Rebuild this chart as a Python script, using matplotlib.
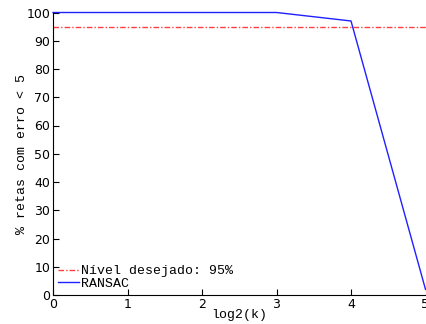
import numpy as np
import matplotlib
matplotlib.use("Agg")
import matplotlib.pyplot as plt

log2k = [0, 1, 2, 3, 4, 5]
ransac = [100, 100, 100, 100, 97, 2]
nivel = 95

fig = plt.figure(figsize=(4.26, 3.24), dpi=100)
ax = fig.add_axes([53/426, 1-295/324, (425.5-53)/426, (295-12.5)/324])

ax.plot([0, 5], [nivel, nivel], color='#ff4040', linestyle=(0, (4, 1.5, 1, 1.5)), linewidth=1,
        label='Nível desejado: 95%')
ax.plot(log2k, ransac, color='#2020ff', linewidth=1, label='RANSAC', clip_on=False)

ax.set_xlim(0, 5)
ax.set_ylim(0, 100)
ax.set_xticks(range(6))
ax.set_yticks(range(0, 101, 10))
ax.spines['top'].set_visible(False)
ax.spines['right'].set_visible(False)
ax.tick_params(direction='in', length=4, labelsize=9, pad=2)
ax.set_xlabel('log2(k)', family='Liberation Mono', fontsize=9.5, labelpad=-1)
ax.set_ylabel('% retas com erro < 5', family='Liberation Mono', fontsize=9.5, labelpad=-1)

leg = ax.legend(loc='lower left', frameon=False, prop={'family': 'Liberation Mono', 'size': 9.5},
                handlelength=1.6, handletextpad=0.1, borderaxespad=0.0, labelspacing=0.0)

fig.savefig('out.png', dpi=100)
